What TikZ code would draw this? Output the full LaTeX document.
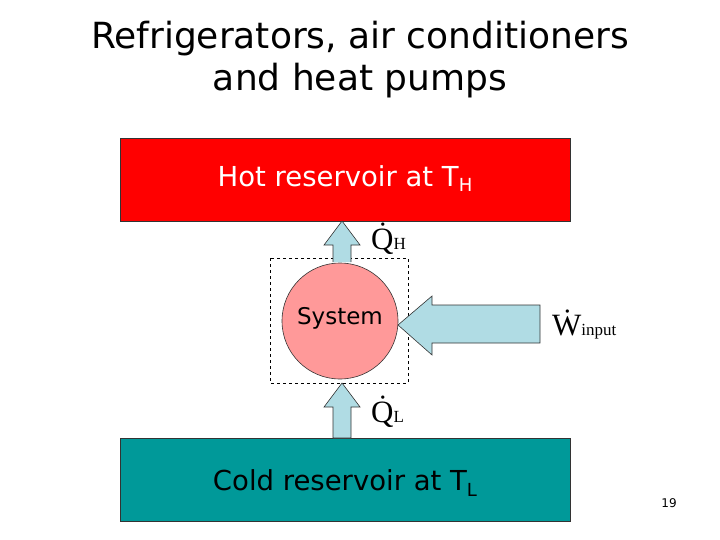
\documentclass[tikz,border=0pt]{standalone}
\usepackage{fontspec}
\setmainfont{DejaVu Sans}
\newfontfamily\timesfont{Liberation Serif}
\usepackage{tikz}
\usetikzlibrary{calc}

\definecolor{hotred}{RGB}{255,0,0}
\definecolor{coldteal}{RGB}{0,153,153}
\definecolor{syspink}{RGB}{255,153,153}
\definecolor{flowblue}{RGB}{176,220,228}

\tikzset{
  reservoir/.style={draw=black!80, line width=0.6pt, minimum width=450pt, minimum height=83pt, inner sep=0pt,
    font=\fontsize{27.5}{27.5}\selectfont},
  flow/.style={draw=black!80, fill=flowblue, line width=0.6pt, line join=miter},
  heatlabel/.style={font=\timesfont\fontsize{31}{31}\selectfont, inner sep=0pt}
}
\newcommand{\sublbl}[1]{{\fontsize{17}{17}\selectfont #1}}
\newcommand{\tsub}[1]{\raisebox{-0.35ex}{\fontsize{18}{18}\selectfont #1}}

\begin{document}
\begin{tikzpicture}[x=1pt, y=-1pt]
\useasboundingbox (0,0) rectangle (720,540);

% title
\node[align=center, font=\fontsize{36}{42}\selectfont] (title) at (360,60)
  {Refrigerators, air conditioners\\and heat pumps};

% reservoirs
\node[reservoir, fill=hotred, text=white] (hot) at (345,179.5)
  {\raisebox{1pt}[\height][\depth]{Hot reservoir at T\tsub{H}}\hspace{14pt}};
\node[reservoir, fill=coldteal] (cold) at (345,480)
  {\raisebox{-3pt}[\height][\depth]{Cold reservoir at T\tsub{L}}\hspace{6pt}};

% system
\draw[dashed, line width=0.6pt] (270,258) rectangle (408,383);
\node[circle, draw=black!80, fill=syspink, line width=0.6pt, minimum size=116pt, inner sep=0pt,
  font=\fontsize{23}{23}\selectfont] (sys) at (340,321) {\raisebox{3pt}[\height][\depth]{System}};

% heat out to hot reservoir
\draw[flow] (333,262) -- (333,245) -- (324,245) -- (342,221) -- (360,245) -- (351,245) -- (351,262);
% heat in from cold reservoir
\draw[flow] (333,438) -- (333,407) -- (324,407) -- (342,383) -- (360,407) -- (351,407) -- (351,438) -- cycle;
% work input
\draw[flow] (540,305) -- (432,305) -- (432,296) -- (398,325) -- (432,355) -- (432,343) -- (540,343) -- cycle;

% labels
\node[heatlabel, anchor=base west] (qh) at (371,249) {\.{Q}\sublbl{H}};
\node[heatlabel, anchor=base west] (wi) at (552,335) {\.{W}\sublbl{input}};
\node[heatlabel, anchor=base west] (ql) at (371,422) {\.{Q}\sublbl{L}};

\node[font=\fontsize{12}{12}\selectfont] (page) at (669,503) {19};
\end{tikzpicture}
\end{document}
